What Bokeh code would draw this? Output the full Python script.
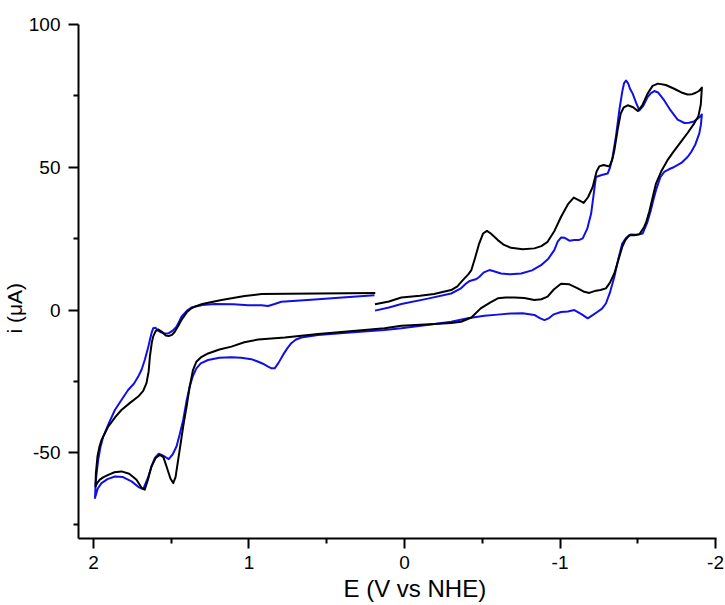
from bokeh.plotting import figure
from bokeh.models import Range1d, FixedTicker, Title
from bokeh.embed import file_html
from bokeh.resources import INLINE

# Black CV (E in V vs NHE, i in uA), traced in scan order
black_e = [0.19, 0.10, 0.02, -0.10, -0.19, -0.30, -0.34, -0.375, -0.41, -0.43, -0.455, -0.48,
           -0.505, -0.53, -0.555, -0.60, -0.64, -0.685, -0.76, -0.835, -0.88, -0.92, -0.965,
           -1.006, -1.05, -1.088, -1.12, -1.152, -1.18, -1.21, -1.235, -1.252, -1.28, -1.317,
           -1.335, -1.349, -1.37, -1.39, -1.41, -1.435, -1.47, -1.50, -1.53, -1.563, -1.595,
           -1.63, -1.68, -1.734, -1.78, -1.82, -1.85, -1.873, -1.895, -1.912,
           -1.905, -1.89, -1.862, -1.82, -1.777, -1.73, -1.69, -1.65, -1.617, -1.60, -1.574,
           -1.555, -1.541, -1.51, -1.475, -1.445, -1.42, -1.40, -1.375, -1.349, -1.32, -1.295,
           -1.26, -1.231, -1.188, -1.15, -1.114, -1.06, -1.006, -0.96, -0.92, -0.88, -0.835,
           -0.77, -0.706, -0.65, -0.60, -0.55, -0.49, -0.43, -0.364, -0.30, -0.193, 0.02, 0.128,
           0.35, 0.556, 0.77, 0.94, 1.03, 1.113, 1.19, 1.263, 1.31, 1.338, 1.36, 1.381, 1.40,
           1.423, 1.44, 1.455, 1.472, 1.487, 1.505, 1.53, 1.55, 1.573, 1.60, 1.627, 1.65, 1.67,
           1.69, 1.723, 1.77, 1.82, 1.865, 1.905, 1.935, 1.959, 1.975, 1.987,
           1.984, 1.974, 1.962, 1.948, 1.925, 1.905, 1.86, 1.82, 1.765, 1.712, 1.68, 1.659,
           1.645, 1.637, 1.625, 1.616, 1.60, 1.584, 1.56, 1.535, 1.516, 1.495, 1.477, 1.455,
           1.434, 1.40, 1.37, 1.349, 1.30, 1.177, 1.028, 0.92, 0.75, 0.556, 0.188]
black_i = [2.0, 3.0, 4.4, 5.0, 5.6, 7.0, 8.3, 10.5, 12.5, 14.0, 18.5, 23.3,
           26.8, 27.7, 26.8, 24.5, 22.8, 21.8, 21.3, 21.6, 22.4, 23.9, 27.8,
           32.6, 37.0, 39.4, 38.5, 37.5, 39.5, 43.1, 48.5, 50.3, 50.8, 50.3,
           52.5, 55.9, 63.0, 68.8, 71.0, 71.7, 71.0, 69.7, 71.8, 75.8, 78.5,
           79.3, 78.8, 77.5, 76.2, 75.5, 75.6, 76.1, 76.8, 77.9,
           72.0, 68.0, 65.3, 62.0, 58.9, 55.5, 52.4, 48.5, 44.3, 40.5, 34.5,
           31.0, 29.1, 26.5, 26.2, 26.2, 24.5, 22.1, 17.5, 12.8, 9.5, 7.6,
           7.0, 6.8, 6.0, 6.5, 7.6, 9.0, 9.2, 7.2, 4.7, 3.8, 3.5,
           4.2, 4.4, 4.4, 4.1, 2.6, 0.6, -2.6, -4.1, -4.5, -4.9, -5.5, -6.4,
           -7.4, -8.4, -9.6, -10.3, -11.3, -12.8, -13.8, -15.2, -16.6, -18.1, -21.0, -26.8, -33.5,
           -40.8, -47.0, -52.4, -58.5, -60.6, -59.0, -54.8, -51.5, -50.7, -51.8, -54.8, -59.5, -62.9,
           -62.3, -59.4, -57.3, -56.5, -56.8, -57.7, -58.5, -59.4, -60.5, -61.8,
           -57.0, -51.3, -48.0, -45.5, -43.0, -40.8, -37.5, -35.0, -32.5, -30.3, -28.3, -25.6,
           -21.5, -16.3, -11.5, -9.3, -7.4, -6.8, -7.6, -8.9, -9.1, -8.7, -7.6, -5.6,
           -3.5, -0.8, 0.6, 1.2, 2.1, 3.5, 4.9, 5.6, 5.7, 5.8, 6.0]

# Blue CV
blue_e = [0.19, 0.10, 0.02, -0.15, -0.30, -0.36, -0.396, -0.42, -0.44, -0.46, -0.48, -0.51,
          -0.546, -0.58, -0.62, -0.68, -0.75, -0.82, -0.878, -0.925, -0.963, -0.985, -1.006,
          -1.03, -1.06, -1.092, -1.12, -1.146, -1.175, -1.2, -1.215, -1.231, -1.263, -1.306,
          -1.322, -1.338, -1.36, -1.381, -1.40, -1.412, -1.424, -1.437, -1.45, -1.467, -1.49,
          -1.51, -1.535, -1.563, -1.585, -1.606, -1.63, -1.67, -1.71, -1.756, -1.80, -1.83,
          -1.86, -1.884, -1.90, -1.912,
          -1.906, -1.895, -1.87, -1.845, -1.82, -1.78, -1.734, -1.70, -1.67, -1.645, -1.617,
          -1.60, -1.584, -1.56, -1.531, -1.49, -1.456, -1.425, -1.40, -1.375, -1.349, -1.32,
          -1.295, -1.27, -1.242, -1.21, -1.178, -1.14, -1.092, -1.05, -1.006, -0.96, -0.93,
          -0.90, -0.87, -0.835, -0.76, -0.685, -0.60, -0.514, -0.407, -0.30, -0.193, 0.02,
          0.128, 0.35, 0.556, 0.663, 0.70, 0.728, 0.755, 0.781, 0.81, 0.835, 0.855, 0.877,
          0.91, 0.94, 0.985, 1.05, 1.113, 1.19, 1.263, 1.31, 1.338, 1.36, 1.381, 1.40, 1.423,
          1.445, 1.466, 1.49, 1.516, 1.545, 1.58, 1.605, 1.627, 1.65, 1.68, 1.71, 1.755, 1.81,
          1.862, 1.91, 1.948, 1.972, 1.99,
          1.985, 1.977, 1.969, 1.955, 1.937, 1.90, 1.862, 1.82, 1.777, 1.74, 1.712, 1.69,
          1.67, 1.65, 1.637, 1.625, 1.616, 1.60, 1.585, 1.573, 1.545, 1.516, 1.49, 1.466,
          1.45, 1.434, 1.40, 1.37, 1.30, 1.22, 1.10, 1.006, 0.92, 0.877, 0.835, 0.792, 0.60,
          0.40, 0.193]
blue_i = [-0.2, 0.9, 2.1, 4.0, 5.8, 7.5, 9.3, 10.2, 10.5, 10.8, 11.6, 13.2,
          14.0, 13.5, 12.8, 12.5, 12.8, 13.9, 15.7, 18.0, 21.0, 24.0, 25.4,
          25.3, 24.3, 24.5, 24.5, 25.1, 28.5, 33.8, 40.0, 46.6, 47.2, 47.8,
          50.0, 53.6, 61.0, 69.9, 76.5, 79.5, 80.4, 79.5, 77.5, 75.8, 72.5,
          69.9, 71.5, 74.6, 76.0, 76.7, 76.2, 73.4, 70.0, 66.7, 65.5, 65.6,
          66.0, 67.0, 67.7, 68.5,
          65.0, 61.8, 58.0, 55.5, 53.6, 51.5, 50.1, 49.3, 48.4, 46.5, 42.0,
          38.5, 35.0, 30.5, 26.8, 26.4, 26.5, 25.3, 23.3, 18.0, 11.6, 6.0,
          2.3, 0.5, -0.6, -1.8, -2.9, -1.5, 0.0, -0.5, -0.7, -1.5, -2.8,
          -3.5, -2.8, -1.7, -1.1, -1.2, -1.6, -2.0, -2.9, -4.1, -4.9, -6.4,
          -7.0, -7.9, -8.7, -9.6, -10.4, -11.6, -13.5, -15.7, -18.5, -20.4, -20.4, -19.8,
          -18.8, -18.1, -17.2, -16.7, -16.5, -16.7, -17.5, -18.7, -20.4, -23.0, -26.8, -31.5, -38.5,
          -43.5, -47.8, -50.5, -52.2, -51.2, -50.3, -51.8, -54.8, -58.8, -62.7, -62.0, -60.0, -58.5,
          -58.3, -59.2, -60.6, -62.5, -65.8,
          -60.0, -56.0, -52.4, -48.0, -44.3, -39.5, -35.0, -31.5, -28.0, -25.8, -23.3, -20.8,
          -17.5, -13.5, -10.5, -7.8, -6.4, -6.2, -7.2, -7.6, -8.2, -8.1, -7.2, -5.8,
          -4.2, -2.3, -0.3, 0.9, 1.8, 2.1, 2.0, 1.7, 1.7, 1.4, 2.1, 2.9, 3.6,
          4.4, 5.2]

x_ticks = [2, 1, 0, -1, -2]
x_minor = [1.5, 0.5, -0.5, -1.5]
y_ticks = [100, 50, 0, -50]
y_minor = [75, 25, -25, -75]

p = figure(width=724, height=605, output_backend="svg", toolbar_location=None,
           x_range=Range1d(2.096, -2.006), y_range=Range1d(-80, 100),
           min_border_left=77, min_border_right=8, min_border_top=24, min_border_bottom=67)

p.xgrid.visible = False
p.ygrid.visible = False
p.outline_line_color = None
p.background_fill_color = "white"
p.border_fill_color = "white"

p.line(blue_e, blue_i, line_color="#1010e6", line_width=2, line_join="round")
p.line(black_e, black_i, line_color="black", line_width=2, line_join="round")

for ax, ticks, minor in ((p.xaxis[0], x_ticks, x_minor), (p.yaxis[0], y_ticks, y_minor)):
    ax.ticker = FixedTicker(ticks=ticks, minor_ticks=minor)
    ax.axis_line_width = 2
    ax.axis_line_color = "black"
    ax.major_tick_line_width = 2
    ax.minor_tick_line_width = 2
    ax.major_tick_in = 0
    ax.major_tick_out = 10
    ax.minor_tick_in = 0
    ax.minor_tick_out = 5
    ax.major_label_text_font = "Liberation Sans"
    ax.major_label_text_font_size = "19px"
    ax.major_label_text_color = "black"
    ax.major_label_overrides = {t: str(t) for t in ticks}

p.xaxis[0].major_label_standoff = 7
p.yaxis[0].major_label_standoff = 8

p.add_layout(Title(text="E (V vs NHE)", align="left", offset=265, standoff=2,
                   text_font="Liberation Sans", text_font_size="24px",
                   text_font_style="normal", text_color="black"), "below")
p.add_layout(Title(text="i (μA)", align="left", offset=205, standoff=0,
                   text_font="Liberation Sans", text_font_size="21px",
                   text_font_style="normal", text_color="black"), "left")

open("out.html", "w").write(file_html(p, INLINE))
